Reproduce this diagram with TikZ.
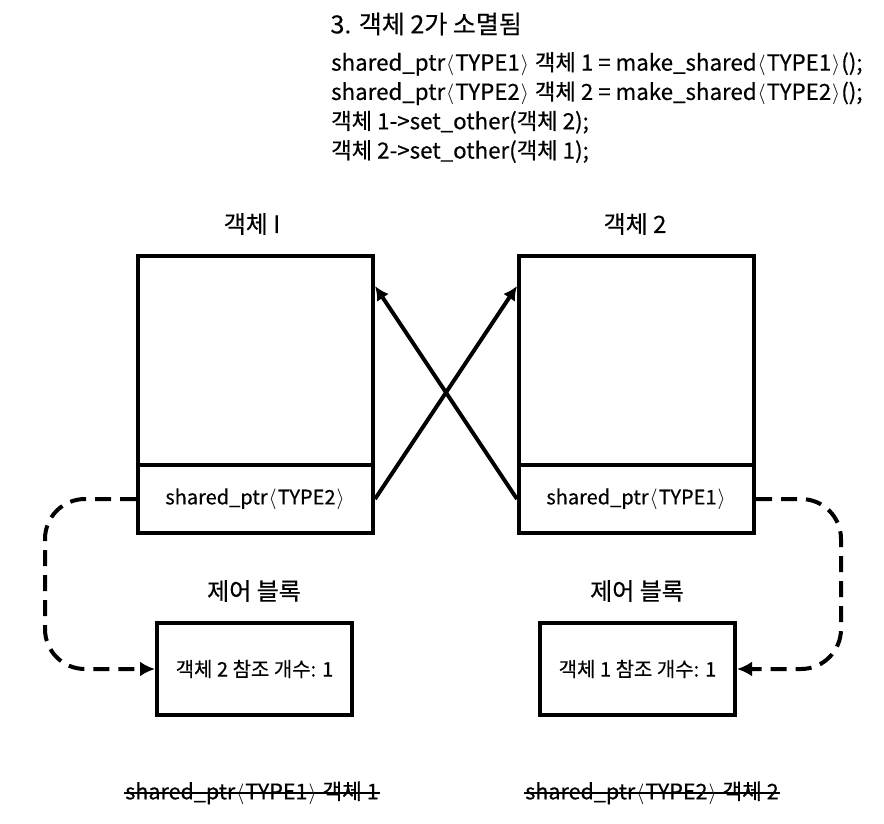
\documentclass[tikz,border=0pt]{standalone}
\usepackage{fontspec}
\setmainfont{Noto Sans CJK KR}[FakeBold=0.4]
\usetikzlibrary{positioning,arrows.meta,calc}
\newcommand{\lang}{\kern1pt\ensuremath{\langle}\kern1pt}
\newcommand{\rang}{\kern1pt\ensuremath{\rangle}\kern1pt}

\begin{document}
\begin{tikzpicture}[
x=1pt, y=-1pt,
body/.style={font=\fontsize{20}{24}\selectfont},
objbox/.style={draw, line width=4pt, minimum width=235pt, minimum height=209pt},
ptrbox/.style={draw, line width=4pt, minimum width=235pt, minimum height=68pt, body},
ctrlbox/.style={draw, line width=4pt, minimum width=195pt, minimum height=92pt, body},
head/.style={font=\fontsize{24}{28}\selectfont},
arr/.style={-{Latex[length=14pt,width=14pt]}, line width=4pt},
dasharr/.style={-{Latex[length=15pt,width=15pt]}, line width=4pt, dash pattern=on 16pt off 9pt, rounded corners=40pt},
strike/.style={font=\fontsize{21.5}{24}\selectfont, inner sep=1pt}
]
\useasboundingbox (0,0) rectangle (884,823);
% title and code
\node[anchor=west, font=\fontsize{25}{28}\selectfont] (title) at (327,24) {3. 객체 2가 소멸됨};
\node[anchor=north west, align=left, inner sep=0pt, font=\fontsize{22.3}{29.3}\selectfont] (code) at (331,52)
  {shared\_ptr\lang TYPE1\rang{} 객체 1 = make\_shared\lang TYPE1\rang();\\
   shared\_ptr\lang TYPE2\rang{} 객체 2 = make\_shared\lang TYPE2\rang();\\
   객체 1->set\_other(객체 2);\\
   객체 2->set\_other(객체 1);};
% objects
\node[objbox] (obj1) at (255.5,360.5) {};
\node[objbox] (obj2) at (636.5,360.5) {};
\node[ptrbox] (ptr1) at (255.5,499) {shared\_ptr\lang TYPE2\rang};
\node[ptrbox] (ptr2) at (636.5,499) {shared\_ptr\lang TYPE1\rang};
\node[head] (name1) at (252,224) {객체 I};
\node[head] (name2) at (635,224) {객체 2};
% control blocks
\node[ctrlbox] (ctrl1) at (254.5,669) {객체 2 참조 개수: 1};
\node[ctrlbox] (ctrl2) at (637.5,669) {객체 1 참조 개수: 1};
\node[head] (cb1) at (254,591) {제어 블록};
\node[head] (cb2) at (637,591) {제어 블록};
% cross pointers
\draw[arr] (ptr1.east) -- ($(obj2.north west)+(0,32)$);
\draw[arr] (ptr2.west) -- ($(obj1.north east)+(0,32)$);
\draw[dasharr] (ptr1.west) -- ++(-91,0) |- (ctrl1.west);
\draw[dasharr] (ptr2.east) -- ++(85,0) |- (ctrl2.east);
% destroyed variables
\node[strike] (var1) at (252,793) {shared\_ptr\lang TYPE1\rang{} 객체 1};
\node[strike] (var2) at (652,793) {shared\_ptr\lang TYPE2\rang{} 객체 2};
\draw[line width=1.6pt] (var1.west) -- (var1.east);
\draw[line width=1.6pt] (var2.west) -- (var2.east);
\end{tikzpicture}
\end{document}
